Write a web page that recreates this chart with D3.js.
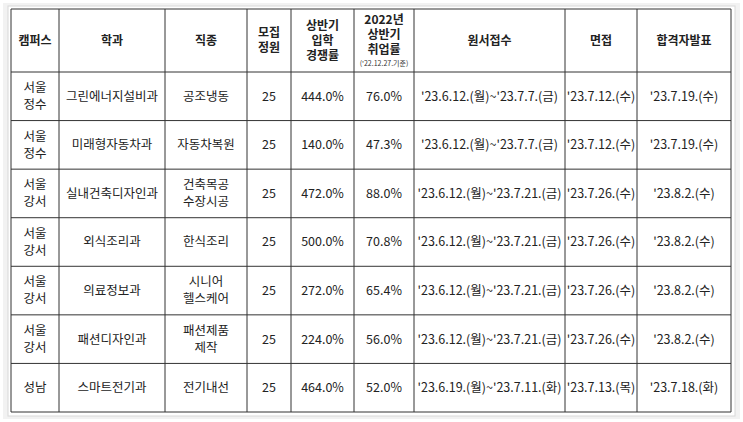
<!DOCTYPE html>
<html><head><meta charset="utf-8">
<script src="https://cdn.jsdelivr.net/npm/d3@7"></script>
<style>body{margin:0;background:#fff;font-family:"Noto Sans CJK KR",sans-serif}</style>
</head><body><div id="chart"></div>
<script>
const headers = [["캠퍼스"], ["학과"], ["직종"], ["모집", "정원"], ["상반기", "입학", "경쟁률"], ["2022년", "상반기", "취업률"], ["원서접수"], ["면접"], ["합격자발표"]];
const campus = [["서울", "정수"], ["서울", "정수"], ["서울", "강서"], ["서울", "강서"], ["서울", "강서"], ["서울", "강서"], ["성남"]];
const depts = ["그린에너지설비과", "미래형자동차과", "실내건축디자인과", "외식조리과", "의료정보과", "패션디자인과", "스마트전기과"];
const jobs = [["공조냉동"], ["자동차복원"], ["건축목공", "수장시공"], ["한식조리"], ["시니어", "헬스케어"], ["패션제품", "제작"], ["전기내선"]];
const quota = [25, 25, 25, 25, 25, 25, 25];
const compRate = [444.0, 140.0, 472.0, 500.0, 272.0, 224.0, 464.0];
const empRate = [76.0, 47.3, 88.0, 70.8, 65.4, 56.0, 52.0];
const apply = ["'23.6.12.(월)~'23.7.7.(금)", "'23.6.12.(월)~'23.7.7.(금)", "'23.6.12.(월)~'23.7.21.(금)", "'23.6.12.(월)~'23.7.21.(금)", "'23.6.12.(월)~'23.7.21.(금)", "'23.6.12.(월)~'23.7.21.(금)", "'23.6.19.(월)~'23.7.11.(화)"];
const interview = ["'23.7.12.(수)", "'23.7.12.(수)", "'23.7.26.(수)", "'23.7.26.(수)", "'23.7.26.(수)", "'23.7.26.(수)", "'23.7.13.(목)"];
const result = ["'23.7.19.(수)", "'23.7.19.(수)", "'23.8.2.(수)", "'23.8.2.(수)", "'23.8.2.(수)", "'23.8.2.(수)", "'23.7.18.(화)"];

const colEdges = [11, 59, 165, 247, 291, 354, 414, 565, 637, 731];
const tableTop = 9, headH = 63, tableBottom = 412;

const svg = d3.select('#chart').append('svg').attr('width', 743).attr('height', 422);

// frame shading
svg.append('rect').attr('x', 3).attr('y', 3).attr('width', 737).attr('height', 416).attr('fill', '#f2f2f2');
svg.append('rect').attr('x', 8).attr('y', 6).attr('width', 727).attr('height', 410).attr('fill', '#fff').attr('stroke', '#d8d8d8');

const rowsIdx = d3.range(depts.length);
const y = d3.scaleBand().domain(rowsIdx).range([tableTop + headH, tableBottom]);

const rows = rowsIdx.map(i => [campus[i], [depts[i]], jobs[i], [String(quota[i])],
  [compRate[i].toFixed(1) + '%'], [empRate[i].toFixed(1) + '%'], [apply[i]], [interview[i]], [result[i]]]);

const cx = j => (colEdges[j] + colEdges[j + 1]) / 2;

function cell(lines, x, yc, weight, size, lh) {
  const t = svg.append('text').attr('text-anchor', 'middle').attr('font-size', size)
    .attr('font-weight', weight).attr('fill', '#222');
  lines.forEach((l, k) => t.append('tspan').attr('x', x)
    .attr('y', yc + (k - (lines.length - 1) / 2) * lh).attr('dy', '0.35em').text(l));
}

headers.forEach((h, j) => {
  const yc = tableTop + headH / 2 - (j === 5 ? 6 : 0);
  cell(h, cx(j), yc, 700, 12, 15);
});
svg.append('text').attr('x', cx(5)).attr('y', tableTop + 57).attr('text-anchor', 'middle')
  .attr('font-size', 7).attr('fill', '#333').text("('22.12.27.기준)");

rows.forEach((r, i) => r.forEach((c, j) => cell(c, cx(j), y(i) + y.bandwidth() / 2, 400, 12.5, 17)));

// grid
const g = svg.append('g').attr('stroke', '#333').attr('stroke-width', 1);
colEdges.forEach(x => g.append('line').attr('x1', x).attr('x2', x).attr('y1', tableTop).attr('y2', tableBottom));
[tableTop, tableTop + headH, ...rowsIdx.map(i => y(i) + y.bandwidth())].forEach(v =>
  g.append('line').attr('x1', colEdges[0]).attr('x2', colEdges[9]).attr('y1', v).attr('y2', v));
</script></body></html>
